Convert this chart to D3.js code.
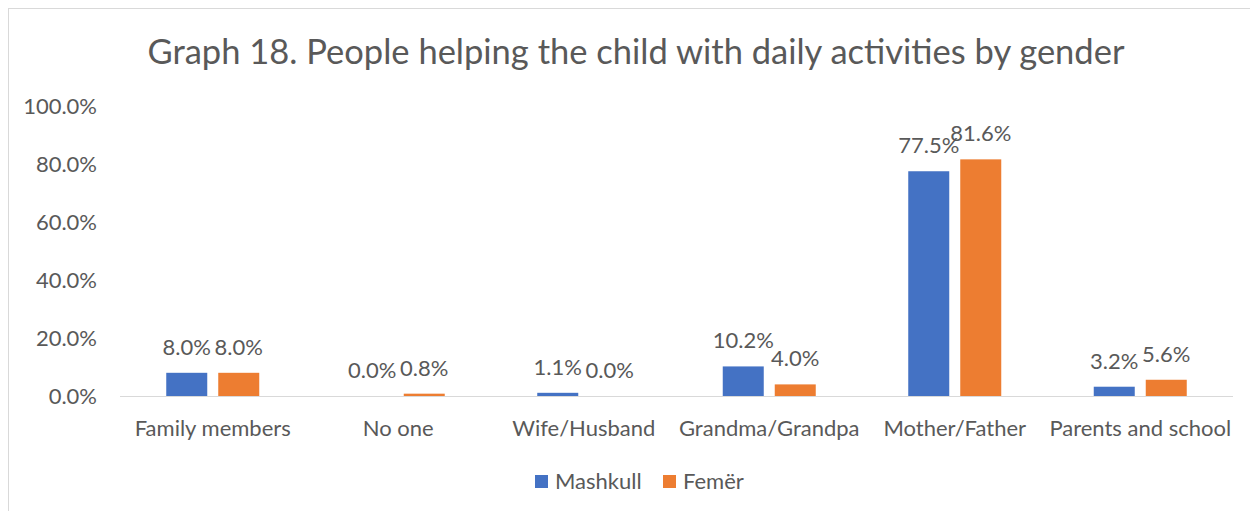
<!DOCTYPE html>
<html><head><meta charset="utf-8">
<script src="https://cdn.jsdelivr.net/npm/d3@7"></script>
<style>body{margin:0;background:#fff}svg{display:block}text{font-family:Lato,"Open Sans",sans-serif;fill:#595959}</style>
</head><body><svg id="c" width="1250" height="511"></svg>
<script>
const categories = ["Family members","No one","Wife/Husband","Grandma/Grandpa","Mother/Father","Parents and school"];
const mashkull = [8.0,0.0,1.1,10.2,77.5,3.2];
const femer = [8.0,0.8,0.0,4.0,81.6,5.6];
const seriesNames = ["Mashkull","Femër"];
const colors = ["#4472C4","#ED7D31"];
const yTicks = [0,20,40,60,80,100];

const svg = d3.select("#c");
svg.append("rect").attr("x",8.5).attr("y",8.5).attr("width",1300).attr("height",600).attr("fill","#fff").attr("stroke","#d9d9d9");

const x = d3.scaleBand().domain(categories).range([120,1233]);
const y = d3.scaleLinear().domain([0,100]).range([396,106]);
const bw = 41, off = 26;

svg.append("text").attr("x",636).attr("y",64).attr("text-anchor","middle").style("font-size","34.5px").text("Graph 18. People helping the child with daily activities by gender");

const ya = svg.append("g").attr("transform","translate(97,0)").call(d3.axisLeft(y).tickValues(yTicks).tickSize(0).tickFormat(d=>d.toFixed(1)+"%"));
ya.select(".domain").remove();
ya.selectAll("text").style("font-size","22px").attr("x",0).attr("dy","0.35em");

svg.append("line").attr("x1",120).attr("x2",1233).attr("y1",396.5).attr("y2",396.5).attr("stroke","#d9d9d9");

const xa = svg.append("g").attr("transform","translate(0,396)").call(d3.axisBottom(x).tickSize(0));
xa.select(".domain").remove();
xa.selectAll("text").style("font-size","22px").attr("y",32).attr("dy","0.35em");

[mashkull,femer].forEach((vals,si)=>{
  const dx = si===0?-off:off;
  const g = svg.append("g");
  g.selectAll("rect").data(vals).join("rect")
    .attr("x",(d,i)=>x(categories[i])+x.bandwidth()/2+dx-bw/2)
    .attr("y",d=>y(d)).attr("width",bw).attr("height",d=>396-y(d))
    .attr("fill",colors[si]);
  g.selectAll("text").data(vals).join("text")
    .attr("x",(d,i)=>x(categories[i])+x.bandwidth()/2+dx)
    .attr("y",d=>y(d)-18).attr("text-anchor","middle").style("font-size","22px")
    .text(d=>d.toFixed(1)+"%");
});

const leg = svg.append("g");
const lx = [535,663];
seriesNames.forEach((n,i)=>{
  leg.append("rect").attr("x",lx[i]).attr("y",475).attr("width",13).attr("height",13).attr("fill",colors[i]);
  leg.append("text").attr("x",lx[i]+20).attr("y",481).attr("dy","0.35em").style("font-size","22px").text(n);
});
</script></body></html>
